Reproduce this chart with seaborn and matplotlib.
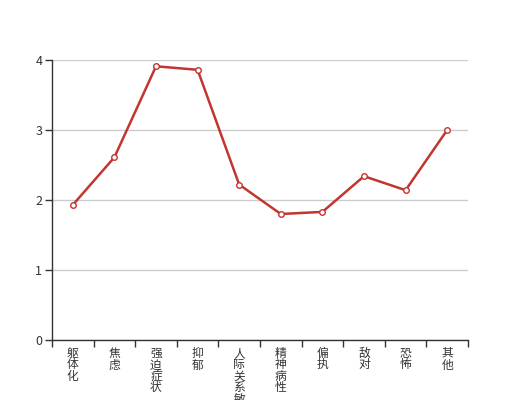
import numpy as np
import pandas as pd
import seaborn as sns
import matplotlib.pyplot as plt

categories = ['躯体化', '焦虑', '强迫症状', '抑郁', '人际关系敏感', '精神病性', '偏执', '敌对', '恐怖', '其他']
values = [1.93, 2.61, 3.91, 3.86, 2.22, 1.80, 1.83, 2.34, 2.14, 3.00]

sns.set_theme(style='white')
plt.rcParams['font.family'] = ['Noto Sans CJK SC', 'DejaVu Sans']

df = pd.DataFrame({'pos': np.arange(len(categories)), 'score': values})

fig = plt.figure(figsize=(5.2, 4), dpi=100)
ax = fig.add_axes([0.1, 0.15, 0.8, 0.7])
line_color = '#c23531'
sns.lineplot(data=df, x='pos', y='score', ax=ax, color=line_color, linewidth=1.8,
             marker='o', markersize=4, markerfacecolor='white',
             markeredgecolor=line_color, markeredgewidth=1)

ax.set_xlim(-0.5, len(categories) - 0.5)
ax.set_ylim(0, 4)
ax.set_yticks([0, 1, 2, 3, 4])
ax.yaxis.grid(True, color='#cccccc', linewidth=1)
ax.set_axisbelow(True)

# category boundaries as major ticks, labels at centres via minor ticks
ax.set_xticks(np.arange(-0.5, len(categories)), labels=[''] * (len(categories) + 1))
ax.set_xticks(np.arange(len(categories)), minor=True)
ax.set_xticklabels(['\n'.join(c) for c in categories], minor=True,
                   fontsize=8.5, color='#333333', linespacing=0.85, va='top')
ax.tick_params(axis='x', which='major', length=5, width=1, color='#333333', direction='out')
ax.tick_params(axis='x', which='minor', length=0, pad=5)
ax.tick_params(axis='y', length=5, width=1, color='#333333', labelsize=9,
               labelcolor='#333333', direction='out', pad=2)
ax.xaxis.set_tick_params(bottom=True, which='both')
ax.yaxis.set_tick_params(left=True)

for s in ['top', 'right']:
    ax.spines[s].set_visible(False)
for s in ['left', 'bottom']:
    ax.spines[s].set_color('#333333')
    ax.spines[s].set_linewidth(1)

ax.set_xlabel('')
ax.set_ylabel('')

fig.savefig('out.png', dpi=100)
